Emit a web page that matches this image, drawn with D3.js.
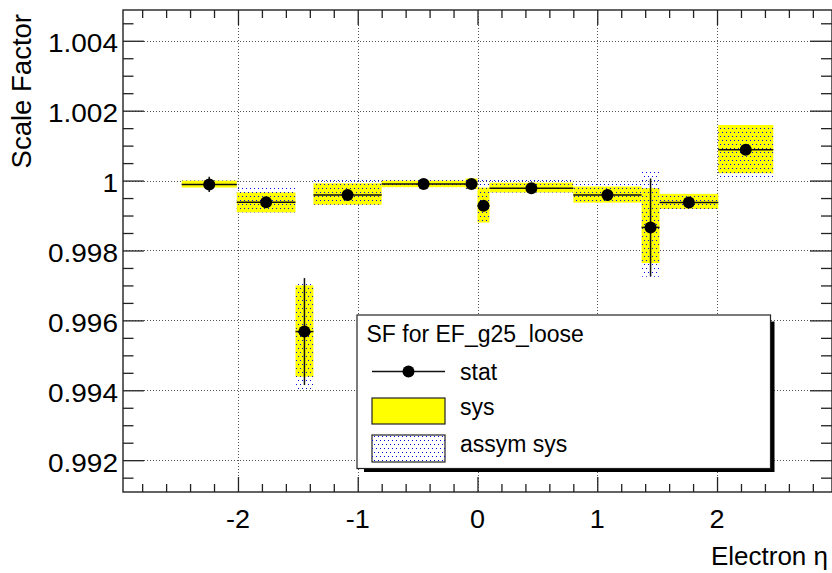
<!DOCTYPE html>
<html>
<head>
<meta charset="utf-8">
<script src="https://cdn.jsdelivr.net/npm/d3@7"></script>
<style>
  body { margin: 0; background: #fff; }
  svg { display: block; font-family: "Liberation Sans", Arial, sans-serif; }
</style>
</head>
<body>
<svg id="chart" width="832" height="573"></svg>
<script>
// eta bins
var etaLow  = [-2.47, -2.01, -1.52, -1.37, -0.8, -0.1, 0, 0.1, 0.8, 1.37, 1.52, 2.01];
var etaHigh = [-2.01, -1.52, -1.37, -0.8, -0.1, 0, 0.1, 0.8, 1.37, 1.52, 2.01, 2.47];
// scale factor + stat error
var sf      = [0.99989, 0.99938, 0.99568, 0.99959, 0.99990, 0.99990, 0.99928, 0.99978, 0.99959, 0.99866, 0.99937, 1.00088];
var statErr = [0.00022, 0.0001, 0.00153, 0.0001, 0.0001, 0.0001, 0.0001, 0.0001, 0.0001, 0.0014, 0.0001, 0.0001];
// sys band (yellow)
var sysLow  = [0.99980, 0.99909, 0.99439, 0.99931, 0.99981, 0.99976, 0.99880, 0.99966, 0.99937, 0.99764, 0.99919, 1.00021];
var sysHigh = [1.00000, 0.99966, 0.99700, 0.99992, 1.00000, 1.00006, 0.99980, 0.99994, 0.99983, 0.99978, 0.99962, 1.00159];
// assym sys band (blue dots)
var asymLow  = [0.99980, 0.99909, 0.99396, 0.99931, 0.99981, 0.99976, 0.99880, 0.99966, 0.99937, 0.99725, 0.99919, 1.00007];
var asymHigh = [1.00000, 0.99979, 0.99706, 1.00002, 1.00002, 1.00006, 1.00002, 1.00002, 0.99992, 1.00031, 0.99962, 1.00159];

var xMajor = [-2, -1, 0, 1, 2];
var yMajor = [0.992, 0.994, 0.996, 0.998, 1, 1.002, 1.004];
var yLabels = ["0.992", "0.994", "0.996", "0.998", "1", "1.002", "1.004"];
var legendTitle = "SF for EF_g25_loose";
var legendLabels = ["stat", "sys", "assym sys"];

var L = 123, R = 832, T = 10, B = 492;
var svg = d3.select("#chart");

var x = d3.scaleLinear().domain([-2.96, 2.96]).range([L, R]);
var y = d3.scaleLinear().domain([0.99109, 1.00488]).range([B, T]);

var xMinor = d3.range(-28, 29, 2).map(function (d) { return d / 10; }).filter(function (d) { return xMajor.indexOf(d) < 0; });
var yMinor = d3.range(9915, 10046, 5).filter(function (d) { return d % 20 != 0; }).map(function (d) { return d / 10000; });

var defs = svg.append("defs");
var pat = defs.append("pattern")
    .attr("id", "dots")
    .attr("patternUnits", "userSpaceOnUse")
    .attr("width", 4).attr("height", 8);
pat.append("rect").attr("x", 0).attr("y", 0).attr("width", 1).attr("height", 1).attr("fill", "#0000e0");
pat.append("rect").attr("x", 2).attr("y", 4).attr("width", 1).attr("height", 1).attr("fill", "#0000e0");

// grid
var grid = svg.append("g").attr("stroke", "#555").attr("stroke-dasharray", "1,2").attr("stroke-width", 1);
grid.selectAll(".gx").data(xMajor).enter().append("line")
    .attr("x1", function (d) { return Math.round(x(d)) + 0.5; })
    .attr("x2", function (d) { return Math.round(x(d)) + 0.5; })
    .attr("y1", T).attr("y2", B);
grid.selectAll(".gy").data(yMajor).enter().append("line")
    .attr("y1", function (d) { return Math.round(y(d)) + 0.5; })
    .attr("y2", function (d) { return Math.round(y(d)) + 0.5; })
    .attr("x1", L).attr("x2", R);

var idx = d3.range(sf.length);

// sys boxes
svg.append("g").selectAll("rect").data(idx).enter().append("rect")
    .attr("x", function (i) { return x(etaLow[i]); })
    .attr("width", function (i) { return x(etaHigh[i]) - x(etaLow[i]); })
    .attr("y", function (i) { return y(sysHigh[i]); })
    .attr("height", function (i) { return y(sysLow[i]) - y(sysHigh[i]); })
    .attr("fill", "#ffff00");

// assym sys boxes
svg.append("g").selectAll("rect").data(idx).enter().append("rect")
    .attr("x", function (i) { return x(etaLow[i]); })
    .attr("width", function (i) { return x(etaHigh[i]) - x(etaLow[i]); })
    .attr("y", function (i) { return y(asymHigh[i]); })
    .attr("height", function (i) { return y(asymLow[i]) - y(asymHigh[i]); })
    .attr("fill", "url(#dots)");

// stat errors
var st = svg.append("g").attr("stroke", "#111").attr("stroke-width", 1.5);
st.selectAll(".h").data(idx).enter().append("line")
    .attr("x1", function (i) { return x(etaLow[i]); })
    .attr("x2", function (i) { return x(etaHigh[i]); })
    .attr("y1", function (i) { return y(sf[i]); })
    .attr("y2", function (i) { return y(sf[i]); });
st.selectAll(".v").data(idx).enter().append("line")
    .attr("x1", function (i) { return x((etaLow[i] + etaHigh[i]) / 2); })
    .attr("x2", function (i) { return x((etaLow[i] + etaHigh[i]) / 2); })
    .attr("y1", function (i) { return y(sf[i] + statErr[i]); })
    .attr("y2", function (i) { return y(sf[i] - statErr[i]); });
svg.append("g").selectAll("circle").data(idx).enter().append("circle")
    .attr("cx", function (i) { return x((etaLow[i] + etaHigh[i]) / 2); })
    .attr("cy", function (i) { return y(sf[i]); })
    .attr("r", 6)
    .attr("fill", "#000");

// axes ticks
function tickAxis(axis, tr, vals, size) {
    var g = svg.append("g").attr("transform", tr)
        .call(axis.tickValues(vals).tickSizeInner(size).tickSizeOuter(0).tickFormat(""));
    g.select(".domain").remove();
    g.selectAll("line").attr("stroke", "#222").attr("stroke-width", 1.3);
    return g;
}
tickAxis(d3.axisBottom(x), "translate(0," + B + ")", xMajor, -15);
tickAxis(d3.axisBottom(x), "translate(0," + B + ")", xMinor, -8);
tickAxis(d3.axisTop(x), "translate(0," + T + ")", xMajor, -15);
tickAxis(d3.axisTop(x), "translate(0," + T + ")", xMinor, -8);
tickAxis(d3.axisLeft(y), "translate(" + L + ",0)", yMajor, -21);
tickAxis(d3.axisLeft(y), "translate(" + L + ",0)", yMinor, -10.5);
tickAxis(d3.axisRight(y), "translate(" + R + ",0)", yMajor, -22);
tickAxis(d3.axisRight(y), "translate(" + R + ",0)", yMinor, -11);

// frame
svg.append("rect").attr("x", L).attr("y", T).attr("width", R - L).attr("height", B - T)
    .attr("fill", "none").attr("stroke", "#222").attr("stroke-width", 1.4);

// tick labels
function stretch(sel, k) {
    sel.each(function () {
        var w = this.getComputedTextLength();
        d3.select(this).attr("textLength", w * k).attr("lengthAdjust", "spacingAndGlyphs");
    });
}
var xl = svg.append("g").selectAll("text").data(xMajor).enter().append("text")
    .attr("x", function (d) { return x(d); })
    .attr("y", 528)
    .attr("text-anchor", "middle")
    .attr("font-size", 25)
    .text(function (d) { return String(d); });
stretch(xl, 1.08);
var yl = svg.append("g").selectAll("text").data(yMajor).enter().append("text")
    .attr("x", 118)
    .attr("y", function (d) { return y(d) + 11.5; })
    .attr("text-anchor", "end")
    .attr("font-size", 25)
    .text(function (d, i) { return yLabels[i]; });
stretch(yl, 1.12);

// axis titles
svg.append("text").attr("x", 828).attr("y", 565).attr("text-anchor", "end")
    .attr("font-size", 26).text("Electron \u03b7");
svg.append("text").attr("transform", "translate(31,14) rotate(-90)")
    .attr("text-anchor", "end").attr("font-size", 27.5).text("Scale Factor");

// legend
var lg = svg.append("g");
lg.append("rect").attr("x", 364).attr("y", 321.5).attr("width", 410.5).attr("height", 150.5).attr("fill", "#000");
lg.append("rect").attr("x", 357).attr("y", 315).attr("width", 413.5).attr("height", 153.5)
    .attr("fill", "#fff").attr("stroke", "#222").attr("stroke-width", 1.2);
lg.append("text").attr("x", 366.5).attr("y", 342).attr("font-size", 23).text(legendTitle);
lg.append("line").attr("x1", 372).attr("x2", 445).attr("y1", 371.5).attr("y2", 371.5)
    .attr("stroke", "#111").attr("stroke-width", 1.4);
lg.append("circle").attr("cx", 408.5).attr("cy", 371.5).attr("r", 6).attr("fill", "#000");
lg.append("rect").attr("x", 372).attr("y", 398).attr("width", 73).attr("height", 26)
    .attr("fill", "#ffff00").attr("stroke", "#222").attr("stroke-width", 1.2);
lg.append("rect").attr("x", 372).attr("y", 435).attr("width", 73).attr("height", 27)
    .attr("fill", "#fff").attr("stroke", "#222").attr("stroke-width", 1.2);
lg.append("rect").attr("x", 372).attr("y", 435).attr("width", 73).attr("height", 27)
    .attr("fill", "url(#dots)");
lg.selectAll(".lt").data(legendLabels).enter().append("text")
    .attr("x", 460)
    .attr("y", function (d, i) { return [380, 415, 451.5][i]; })
    .attr("font-size", 23)
    .text(function (d) { return d; });
</script>
</body>
</html>
